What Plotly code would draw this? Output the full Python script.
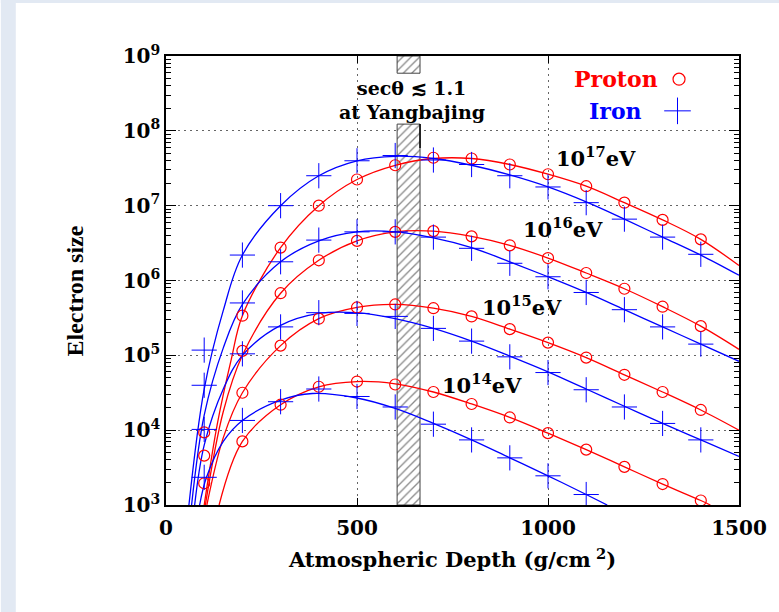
import plotly.graph_objects as go

# ---------------- data ----------------
depth = [100, 200, 300, 400, 500, 600, 700, 800, 900, 1000, 1100, 1200, 1300, 1400]

# log10(electron size) of the simulated points
proton_17 = [3.97, 5.53, 6.44, 7.00, 7.35, 7.54, 7.64, 7.63, 7.55, 7.42, 7.26, 7.04, 6.81, 6.55]
proton_16 = [3.66, 5.06, 5.83, 6.27, 6.53, 6.65, 6.66, 6.59, 6.47, 6.30, 6.10, 5.89, 5.65, 5.39]
proton_15 = [3.29, 4.50, 5.13, 5.49, 5.64, 5.68, 5.63, 5.52, 5.35, 5.17, 4.97, 4.74, 4.51, 4.27]
proton_14_depth = [200, 300, 400, 500, 600, 700, 800, 900, 1000, 1100, 1200, 1300, 1400]
proton_14 = [3.85, 4.34, 4.58, 4.65, 4.61, 4.51, 4.35, 4.17, 3.96, 3.74, 3.51, 3.28, 3.06]

iron_17 = [5.07, 6.34, 7.00, 7.40, 7.60, 7.67, 7.61, 7.55, 7.40, 7.25, 7.04, 6.82, 6.58, 6.35]
iron_16 = [4.60, 5.70, 6.25, 6.54, 6.65, 6.65, 6.58, 6.43, 6.23, 6.05, 5.84, 5.61, 5.38, 5.15]
iron_15 = [4.01, 5.02, 5.38, 5.57, 5.56, 5.52, 5.36, 5.19, 4.98, 4.77, 4.54, 4.31, 4.09, 3.87]
iron_14_depth = [100, 200, 300, 400, 500, 600, 700, 800, 900, 1000, 1100]
iron_14 = [3.37, 4.13, 4.38, 4.55, 4.45, 4.31, 4.08, 3.87, 3.63, 3.39, 3.14]

# fitted curves (knots)
pc17_x = [100, 135, 171, 200, 300, 400, 500, 600, 700, 800, 900, 1000, 1100, 1200, 1300, 1400, 1500]
pc17_y = [3.00, 4.10, 4.95, 5.53, 6.44, 7.00, 7.35, 7.54, 7.63, 7.63, 7.55, 7.42, 7.26, 7.04, 6.81, 6.55, 6.20]
pc16_x = [103, 150, 200, 300, 400, 500, 600, 700, 800, 900, 1000, 1100, 1200, 1300, 1400, 1500]
pc16_y = [3.00, 4.25, 5.00, 5.83, 6.27, 6.53, 6.65, 6.66, 6.59, 6.47, 6.30, 6.10, 5.89, 5.65, 5.39, 5.08]
pc15_x = [107, 150, 200, 300, 400, 500, 600, 700, 800, 900, 1000, 1100, 1200, 1300, 1400, 1500]
pc15_y = [3.00, 3.90, 4.50, 5.13, 5.49, 5.64, 5.68, 5.63, 5.52, 5.35, 5.17, 4.97, 4.74, 4.51, 4.27, 4.00]
pc14_x = [139, 200, 300, 400, 500, 600, 700, 800, 900, 1000, 1100, 1200, 1300, 1400, 1425]
pc14_y = [3.00, 3.85, 4.34, 4.58, 4.65, 4.62, 4.51, 4.35, 4.17, 3.96, 3.74, 3.51, 3.28, 3.06, 3.00]

ic17_x = [60, 100, 150, 200, 300, 400, 500, 600, 700, 800, 900, 1000, 1100, 1200, 1300, 1400, 1500]
ic17_y = [3.00, 4.55, 5.60, 6.34, 7.00, 7.40, 7.60, 7.66, 7.63, 7.54, 7.41, 7.25, 7.05, 6.82, 6.58, 6.34, 6.07]
ic16_x = [67, 100, 150, 200, 300, 400, 500, 600, 700, 800, 900, 1000, 1100, 1200, 1300, 1400, 1500]
ic16_y = [3.00, 4.20, 5.10, 5.68, 6.25, 6.53, 6.65, 6.65, 6.57, 6.44, 6.25, 6.05, 5.84, 5.61, 5.38, 5.15, 4.92]
ic15_x = [75, 100, 150, 200, 300, 400, 500, 600, 700, 800, 900, 1000, 1100, 1200, 1300, 1400, 1500]
ic15_y = [3.00, 3.80, 4.55, 5.00, 5.40, 5.56, 5.57, 5.49, 5.36, 5.19, 4.99, 4.78, 4.55, 4.32, 4.09, 3.87, 3.65]
ic14_x = [88, 106, 150, 200, 300, 383, 500, 600, 700, 800, 900, 1000, 1100, 1155]
ic14_y = [3.00, 3.37, 3.85, 4.13, 4.40, 4.49, 4.43, 4.29, 4.09, 3.87, 3.63, 3.39, 3.14, 3.00]

band_x = [605, 665]          # Yangbajing depth band (g/cm2)
band_gap = [8.09, 8.77]      # log10 range left free for the label

energy_labels = ["10<sup>17</sup>eV", "10<sup>16</sup>eV", "10<sup>15</sup>eV", "10<sup>14</sup>eV"]
energy_label_x = [1015, 929, 822, 718]
energy_label_y = [7.65, 6.70, 5.66, 4.62]

x_ticks = [0, 500, 1000, 1500]
y_ticks = [3, 4, 5, 6, 7, 8, 9]

RED = "#ff0000"
BLUE = "#0000ff"
SERIF = "DejaVu Serif"

def lin(v):
    return [10 ** a for a in v]

fig = go.Figure()

# hatched band (two pieces, interrupted by the label)
for lo, hi in [(3.0, band_gap[0]), (band_gap[1], 9.0)]:
    fig.add_trace(go.Scatter(
        x=[band_x[0], band_x[1], band_x[1], band_x[0], band_x[0]],
        y=lin([lo, lo, hi, hi, lo]),
        mode="lines", fill="toself",
        line=dict(color="#444444", width=1),
        fillcolor="white",
        fillpattern=dict(shape="/", size=6, solidity=0.22, fgcolor="#111111", bgcolor="white"),
        hoverinfo="skip", showlegend=False))

# curves
for cx, cy, col in [(pc17_x, pc17_y, RED), (pc16_x, pc16_y, RED), (pc15_x, pc15_y, RED), (pc14_x, pc14_y, RED),
                    (ic17_x, ic17_y, BLUE), (ic16_x, ic16_y, BLUE), (ic15_x, ic15_y, BLUE), (ic14_x, ic14_y, BLUE)]:
    fig.add_trace(go.Scatter(x=cx, y=lin(cy), mode="lines", line=dict(color=col, width=1.3, shape="spline", smoothing=1.0),
                             hoverinfo="skip", showlegend=False))

# markers
circle = dict(symbol="circle-open", size=11, color=RED, line=dict(color=RED, width=1.2))
cross = dict(symbol="cross-thin-open", size=18, color=BLUE, line=dict(color=BLUE, width=1))
for xs, ys in [(depth, proton_17), (depth, proton_16), (depth, proton_15), (proton_14_depth, proton_14)]:
    fig.add_trace(go.Scatter(x=xs, y=lin(ys), mode="markers", marker=circle, showlegend=False))
for xs, ys in [(depth, iron_17), (depth, iron_16), (depth, iron_15), (iron_14_depth, iron_14)]:
    fig.add_trace(go.Scatter(x=xs, y=lin(ys), mode="markers", marker=cross, showlegend=False))

# legend symbols
fig.add_trace(go.Scatter(x=[1343], y=[10 ** 8.69], mode="markers",
                         marker=dict(symbol="circle-open", size=12, color=RED, line=dict(color=RED, width=1.2)),
                         showlegend=False, hoverinfo="skip"))
fig.add_trace(go.Scatter(x=[1339], y=[10 ** 8.267], mode="markers",
                         marker=dict(symbol="cross-thin-open", size=19, color=BLUE, line=dict(color=BLUE, width=1)),
                         showlegend=False, hoverinfo="skip"))

annotations = []
annotations.append(dict(x=1177, y=8.69, text="Proton", showarrow=False, xanchor="center", yanchor="middle",
                        font=dict(family=SERIF, size=22, color=RED, weight="bold")))
annotations.append(dict(x=1177, y=8.267, text="Iron", showarrow=False, xanchor="center", yanchor="middle",
                        font=dict(family=SERIF, size=22, color=BLUE, weight="bold")))
annotations.append(dict(x=643, y=8.57, text="secθ ≲ 1.1", showarrow=False, xanchor="center", yanchor="middle",
                        font=dict(family=SERIF, size=19, color="black", weight="bold")))
annotations.append(dict(x=643, y=8.25, text="at Yangbajing", showarrow=False, xanchor="center", yanchor="middle",
                        font=dict(family=SERIF, size=19, color="black", weight="bold")))
for t, lx, ly in zip(energy_labels, energy_label_x, energy_label_y):
    annotations.append(dict(x=lx, y=ly, text=t, showarrow=False, xanchor="left", yanchor="middle",
                            font=dict(family=SERIF, size=21, color="black", weight="bold")))
# y axis title
annotations.append(dict(xref="paper", yref="paper", x=(75 - 166) / 576, y=(505 - 291) / 449, text="Electron size",
                        textangle=-90, showarrow=False, xanchor="center", yanchor="middle",
                        font=dict(family="Liberation Serif", size=24, color="black", weight="bold")))

shapes = [
    # light slide background strips at left and top
    dict(type="rect", xref="paper", yref="paper", x0=-0.2882, x1=(15 - 166) / 576, y0=-0.24, y1=1.13,
         fillcolor="#e2e9f3", line=dict(width=0), layer="below"),
    dict(type="rect", xref="paper", yref="paper", x0=-0.2882, x1=1.07, y0=(505 - 3) / 449, y1=1.13,
         fillcolor="#e2e9f3", line=dict(width=0), layer="below"),
    # short black marker line at band edge
    dict(type="line", xref="x", yref="y", x0=665, x1=665, y0=10 ** 8.09, y1=10 ** 7.77,
         line=dict(color="black", width=1.5)),
]

GRID_DASH = "2px,4px"

fig.update_layout(
    width=779, height=612,
    margin=dict(l=166, r=37, t=56, b=107),
    paper_bgcolor="white", plot_bgcolor="white",
    annotations=annotations, shapes=shapes,
    xaxis=dict(range=[0, 1500], tickmode="array", tickvals=x_ticks, ticks="inside", ticklen=7,
               tickcolor="black", showline=True, linecolor="black", linewidth=1.5, mirror="allticks",
               showgrid=True, gridcolor="#666666", griddash=GRID_DASH, gridwidth=1, zeroline=False,
               ticklabelstandoff=4,
               tickfont=dict(family=SERIF, size=20, color="black", weight="bold"),
               title=dict(text="Atmospheric Depth (g/cm<sup> 2</sup>)", standoff=14,
                          font=dict(family=SERIF, size=21, color="black", weight="bold"))),
    yaxis=dict(type="log", range=[3, 9], tickmode="array", tickvals=lin(y_ticks),
               ticktext=["10<sup>%d</sup>" % v for v in y_ticks], ticks="inside", ticklen=10,
               tickcolor="black", showline=True, linecolor="black", linewidth=1.5, mirror="allticks",
               showgrid=True, gridcolor="#666666", griddash=GRID_DASH, gridwidth=1, zeroline=False,
               minor=dict(ticks="inside", ticklen=5, tickcolor="black", dtick="D1", showgrid=False),
               tickfont=dict(family=SERIF, size=20, color="black", weight="bold")),
    showlegend=False,
)

fig.write_html("out.html")
